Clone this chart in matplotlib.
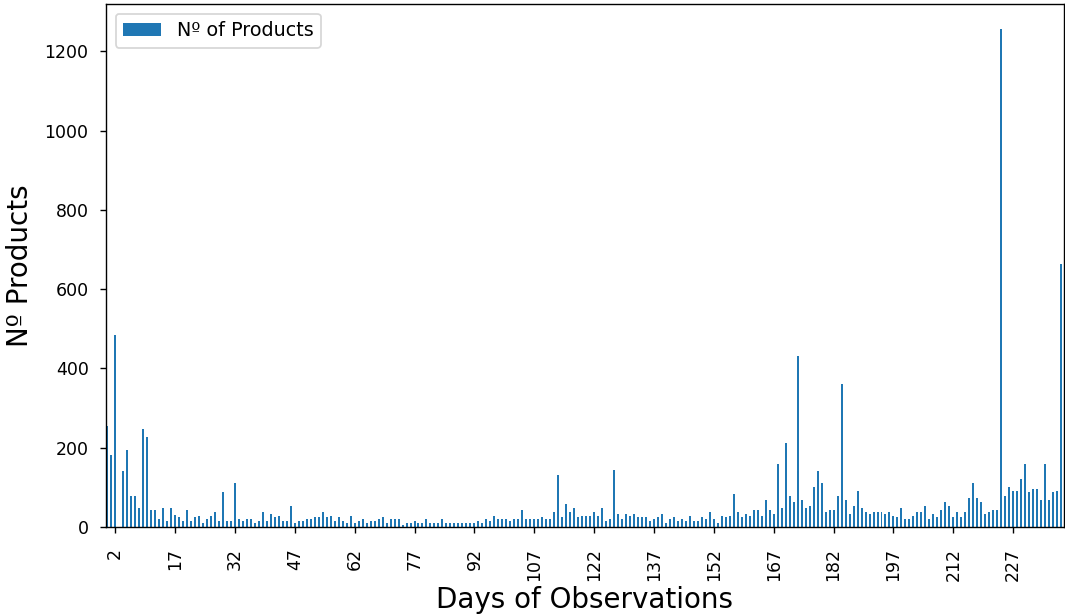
import matplotlib.pyplot as plt

# Number of products registered on each day of observation (day 0 .. day 239)
days = list(range(240))
n_products = [
    256, 182, 485, 0, 141, 195, 78, 78, 49, 247,
    228, 44, 44, 20, 49, 16, 49, 30, 24, 15,
    44, 15, 24, 29, 11, 20, 29, 39, 15, 89,
    15, 15, 112, 20, 15, 20, 20, 11, 15, 39,
    15, 34, 24, 29, 15, 15, 54, 11, 15, 15,
    20, 20, 24, 24, 39, 24, 29, 15, 24, 15,
    11, 29, 11, 15, 20, 11, 15, 15, 20, 24,
    11, 20, 20, 20, 6, 11, 11, 15, 11, 11,
    20, 11, 11, 11, 20, 11, 11, 11, 11, 11,
    11, 11, 11, 15, 11, 20, 15, 29, 20, 20,
    20, 15, 20, 20, 44, 20, 20, 20, 20, 24,
    20, 20, 39, 132, 24, 59, 39, 49, 24, 29,
    29, 29, 39, 29, 49, 15, 20, 145, 34, 20,
    34, 29, 34, 24, 24, 24, 15, 20, 24, 34,
    11, 20, 24, 15, 20, 15, 29, 15, 15, 24,
    20, 39, 20, 11, 29, 24, 29, 83, 39, 24,
    34, 29, 44, 44, 29, 68, 44, 34, 160, 49,
    213, 78, 64, 432, 68, 49, 54, 102, 141, 111,
    39, 44, 44, 78, 362, 68, 34, 54, 92, 49,
    39, 34, 39, 39, 39, 34, 39, 29, 24, 49,
    20, 20, 29, 39, 39, 54, 20, 34, 24, 44,
    64, 54, 24, 39, 24, 39, 73, 111, 73, 64,
    34, 39, 44, 44, 1257, 78, 102, 92, 92, 121,
    160, 88, 97, 97, 68, 160, 68, 88, 92, 663,
]

tick_days = list(range(2, 240, 15))

fig, ax = plt.subplots(figsize=(8.52, 4.912), dpi=125)
ax.bar(days, n_products, width=0.5, color='#1f77b4', label='Nº of Products')

ax.set_xlim(-0.3, 239.6)
ax.set_xticks(tick_days)
ax.set_xticklabels(tick_days, rotation=90)
ax.tick_params(labelsize=10)
ax.tick_params(axis='x', pad=8.5)
ax.tick_params(axis='y', pad=6.5)

ax.set_xlabel('Days of Observations', fontsize=16, labelpad=3)
ax.set_ylabel('Nº Products', fontsize=16, labelpad=6)
ax.legend(loc='upper left', fontsize=11)

fig.subplots_adjust(left=0.0995, right=0.9986, top=0.9935, bottom=0.1417)
fig.savefig('out.png')
